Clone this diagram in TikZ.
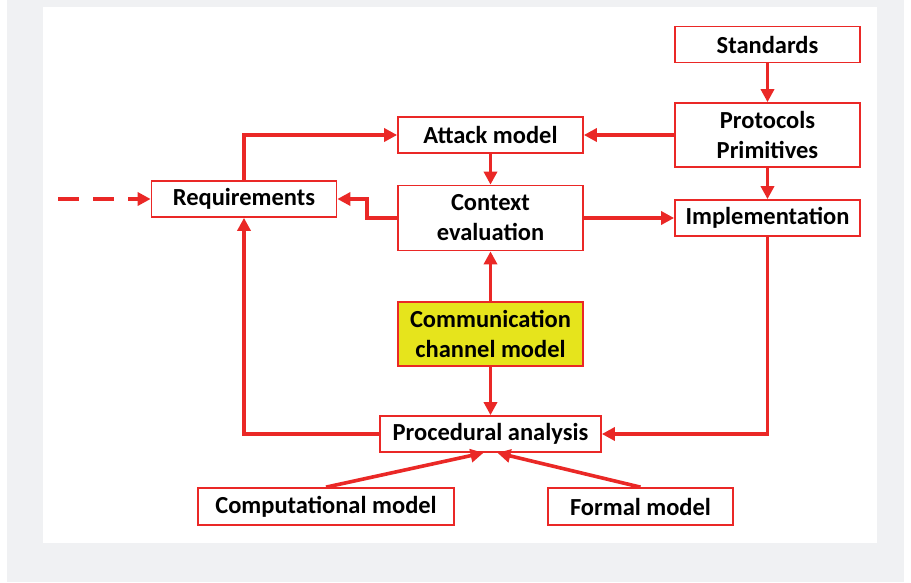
\documentclass[tikz,border=0pt]{standalone}
\usepackage{fontspec}
\setmainfont{Carlito}
\usetikzlibrary{arrows.meta}

\definecolor{flowred}{RGB}{234,40,38}
\definecolor{chanyellow}{RGB}{230,228,28}
\definecolor{pagegray}{RGB}{240,241,243}

\tikzset{
	blockbox/.style = {draw=flowred, line width=1.7pt, fill=white, align=center, inner sep=0pt,
		minimum width=185pt, minimum height=36pt, font=\bfseries\fontsize{24.5}{30}\selectfont},
	flow/.style = {draw=flowred, line width=3.6pt, -{Triangle[length=13pt,width=13pt]}},
}

\begin{document}
\begin{tikzpicture}[x = 1pt, y = -1pt]
	
	% page and panel
	\useasboundingbox (0,0) rectangle (911,582);
	\fill[pagegray] (7,0) rectangle (904,582);
	\fill[white] (43,7) rectangle (877,543);
	
	% right column
	\node[blockbox] (std) at (767.5, 44.5) {Standards};
	\node[blockbox, minimum height=64pt] (proto) at (767.5, 135) {Protocols\\Primitives};
	\node[blockbox] (impl) at (767.5, 218) {Implementation};
	
	% middle column
	\node[blockbox] (attack) at (490.5, 135) {Attack model};
	\node[blockbox, minimum height=65pt] (context) at (490.5, 218) {Context\\evaluation};
	\node[blockbox, minimum height=64pt, fill=chanyellow] (comm) at (490.5, 334) {Communication\\channel model};
	\node[blockbox, minimum width=221pt] (proc) at (490.5, 434) {Procedural analysis};
	
	% left and bottom
	\node[blockbox] (req) at (244, 199) {Requirements};
	\node[blockbox, minimum width=256pt, minimum height=37pt] (comp) at (326, 506.5) {Computational model};
	\node[blockbox, minimum height=37pt] (formal) at (640.5, 506.5) {Formal model};
	
	\coordinate (src) at (58, 199);
	
	% connectors
	\draw[flow] (std) -- (proto);
	\draw[flow] (proto) -- (impl);
	\draw[flow] (proto) -- (attack);
	\draw[flow] (attack) -- (context);
	\draw[flow] (context) -- (impl);
	\draw[flow] (context.west) -- ++(-30,0) |- (req.east);
	\draw[flow] (req.north) |- (attack.west);
	\draw[flow] (proc.west) -| (req.south);
	\draw[flow] (impl.south) |- (proc.east);
	\draw[flow] (comm) -- (context);
	\draw[flow] (comm) -- (proc);
	\draw[flow] (comp.north) -- ([xshift=-7pt]proc.south);
	\draw[flow] (formal.north) -- ([xshift=7pt]proc.south);
	
	\draw[flow, dash pattern=on 21pt off 14pt] (src) -- (req.west);
\end{tikzpicture}
\end{document}
